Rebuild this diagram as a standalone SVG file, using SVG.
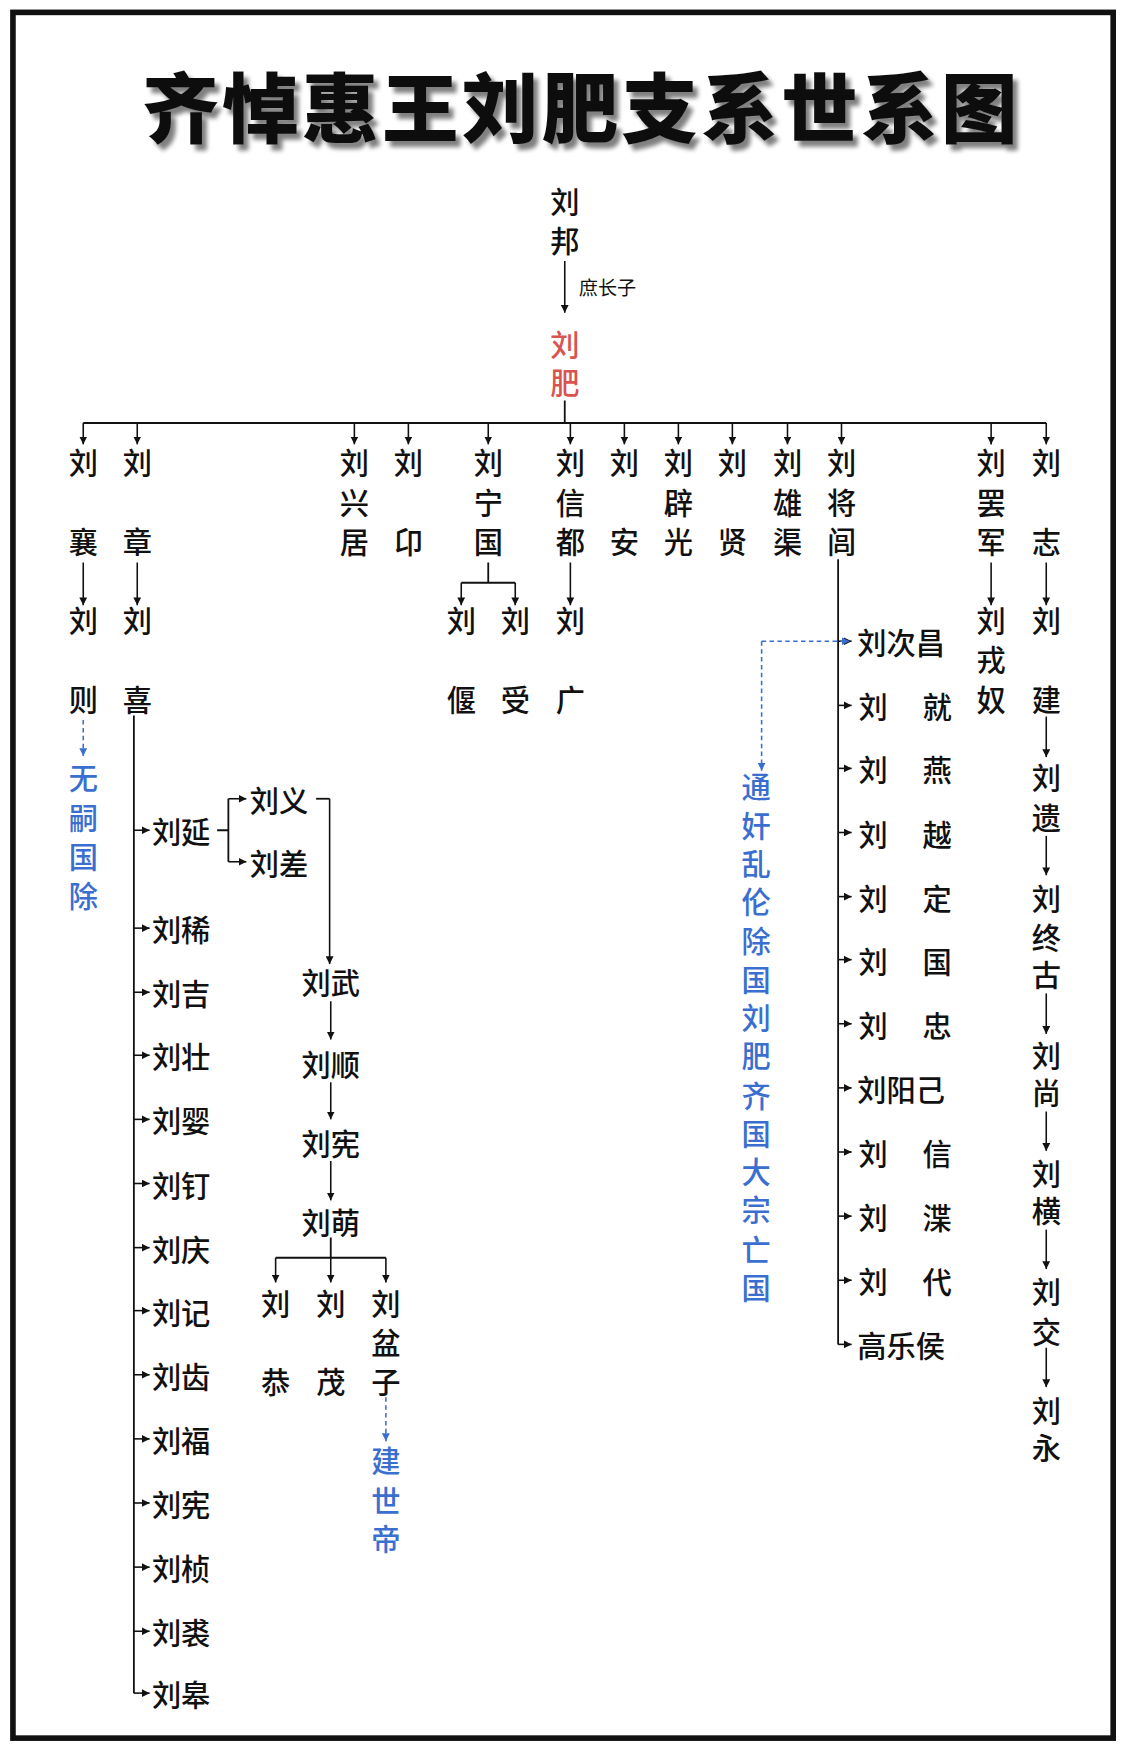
<svg xmlns="http://www.w3.org/2000/svg" width="1125" height="1750" viewBox="0 0 1125 1750">
<defs>
<marker id="ah" viewBox="0 0 10 10" refX="10" refY="5" markerWidth="7" markerHeight="7" markerUnits="userSpaceOnUse" orient="auto"><path d="M0,0L10,5L0,10z" fill="#111"/></marker>
<marker id="ahb" viewBox="0 0 10 10" refX="10" refY="5" markerWidth="7" markerHeight="7" markerUnits="userSpaceOnUse" orient="auto"><path d="M0,0L10,5L0,10z" fill="#3a6fd0"/></marker>
<filter id="sh" x="-5%" y="-20%" width="110%" height="140%"><feGaussianBlur in="SourceAlpha" stdDeviation="2"/><feOffset dx="4" dy="5"/><feComponentTransfer><feFuncA type="linear" slope="0.5"/></feComponentTransfer><feMerge><feMergeNode/><feMergeNode in="SourceGraphic"/></feMerge></filter>
</defs>
<style>
text{font-family:"Noto Sans CJK SC","Noto Sans CJK TC",sans-serif;fill:#111;dominant-baseline:central;text-anchor:middle}
.n{font-size:26px;font-weight:500}
.s{font-size:26px;font-weight:500;text-anchor:start}
.b{fill:#3a6fd0}
.r{fill:#d9534f}
.l{stroke:#111;stroke-width:1.6;fill:none}
.a{stroke:#111;stroke-width:1.4;fill:none;marker-end:url(#ah)}
.d{stroke:#3a6fd0;stroke-width:1.4;fill:none;stroke-dasharray:4 3;marker-end:url(#ahb)}
.dl{stroke:#3a6fd0;stroke-width:1.4;fill:none;stroke-dasharray:4 3}
</style>
<rect x="0" y="0" width="1125" height="1750" fill="#fff"/>
<g transform="scale(1.125)">
<rect x="11.5" y="11" width="978" height="1534" fill="none" stroke="#111" stroke-width="5"/>
<text x="517" y="92" style="font-size:68px;font-weight:900;letter-spacing:3px" filter="url(#sh)">齐悼惠王刘肥支系世系图</text>

<g id="connectors">
<path class="a" d="M502 232V278"/>
<path class="l" d="M502 356V376M74 376H930"/>
<path class="a" d="M74 376V395"/><path class="a" d="M122 376V395"/><path class="a" d="M315 376V395"/><path class="a" d="M363 376V395"/><path class="a" d="M434 376V395"/><path class="a" d="M507 376V395"/><path class="a" d="M555 376V395"/><path class="a" d="M603 376V395"/><path class="a" d="M651 376V395"/><path class="a" d="M700 376V395"/><path class="a" d="M748 376V395"/><path class="a" d="M881 376V395"/><path class="a" d="M930 376V395"/>
<path class="a" d="M74 500V538"/><path class="a" d="M122 500V538"/><path class="a" d="M507 500V538"/><path class="a" d="M881 500V538"/><path class="a" d="M930 500V538"/>
<path class="l" d="M434 500V518M410 518H458"/>
<path class="a" d="M410 518V538"/><path class="a" d="M458 518V538"/>
<path class="d" d="M74 640V672"/>
<path class="l" d="M119 636V1505"/>
<path class="a" d="M119 738H133"/><path class="a" d="M119 825H133"/><path class="a" d="M119 882H133"/><path class="a" d="M119 938H133"/><path class="a" d="M119 995H133"/><path class="a" d="M119 1052H133"/><path class="a" d="M119 1109H133"/><path class="a" d="M119 1165H133"/><path class="a" d="M119 1222H133"/><path class="a" d="M119 1279H133"/><path class="a" d="M119 1336H133"/><path class="a" d="M119 1393H133"/><path class="a" d="M119 1450H133"/><path class="a" d="M119 1505H133"/>
<path class="l" d="M193 738H203M203 710V766"/>
<path class="a" d="M203 710H219"/><path class="a" d="M203 766H219"/>
<path class="l" d="M281 710H293"/>
<path class="a" d="M293 710V857"/><path class="a" d="M294 890V924"/><path class="a" d="M294 962V995"/><path class="a" d="M294 1032V1067"/>
<path class="l" d="M294 1100V1118M245 1118H343"/>
<path class="a" d="M245 1118V1140"/><path class="a" d="M294 1118V1140"/><path class="a" d="M343 1118V1140"/>
<path class="d" d="M343 1242V1281"/>
<path class="l" d="M745 497V1195"/>
<path class="a" d="M745 570H757"/><path class="a" d="M745 627H757"/><path class="a" d="M745 683H757"/><path class="a" d="M745 740H757"/><path class="a" d="M745 797H757"/><path class="a" d="M745 853H757"/><path class="a" d="M745 910H757"/><path class="a" d="M745 967H757"/><path class="a" d="M745 1024H757"/><path class="a" d="M745 1081H757"/><path class="a" d="M745 1138H757"/><path class="a" d="M745 1195H757"/>
<path class="d" d="M677 570H755"/>
<path class="d" d="M677 570V685"/>
<path class="a" d="M930 637V673"/><path class="a" d="M930 743V778"/><path class="a" d="M930 883V919"/><path class="a" d="M930 988V1023"/><path class="a" d="M930 1093V1128"/><path class="a" d="M930 1198V1233"/>
</g>

<g id="n-liubang"><text class="n" x="502" y="178">刘</text><text class="n" x="502" y="212">邦</text><text x="540" y="255" style="font-size:17px">庶长子</text></g>
<g id="n-liufei"><text class="n r" x="502" y="305">刘</text><text class="n r" x="502" y="339">肥</text></g>

<g id="n-xiang"><text class="n" x="74" y="410">刘</text><text class="n" x="74" y="480">襄</text></g>
<g id="n-zhang"><text class="n" x="122" y="410">刘</text><text class="n" x="122" y="480">章</text></g>
<g id="n-xingju"><text class="n" x="315" y="410">刘</text><text class="n" x="315" y="445">兴</text><text class="n" x="315" y="480">居</text></g>
<g id="n-yin"><text class="n" x="363" y="410">刘</text><text class="n" x="363" y="480">卬</text></g>
<g id="n-ningguo"><text class="n" x="434" y="410">刘</text><text class="n" x="434" y="445">宁</text><text class="n" x="434" y="480">国</text></g>
<g id="n-xindu"><text class="n" x="507" y="410">刘</text><text class="n" x="507" y="445">信</text><text class="n" x="507" y="480">都</text></g>
<g id="n-an"><text class="n" x="555" y="410">刘</text><text class="n" x="555" y="480">安</text></g>
<g id="n-piguang"><text class="n" x="603" y="410">刘</text><text class="n" x="603" y="445">辟</text><text class="n" x="603" y="480">光</text></g>
<g id="n-xian"><text class="n" x="651" y="410">刘</text><text class="n" x="651" y="480">贤</text></g>
<g id="n-xiongqu"><text class="n" x="700" y="410">刘</text><text class="n" x="700" y="445">雄</text><text class="n" x="700" y="480">渠</text></g>
<g id="n-jianglv"><text class="n" x="748" y="410">刘</text><text class="n" x="748" y="445">将</text><text class="n" x="748" y="480">闾</text></g>
<g id="n-bajun"><text class="n" x="881" y="410">刘</text><text class="n" x="881" y="445">罢</text><text class="n" x="881" y="480">军</text></g>
<g id="n-zhi"><text class="n" x="930" y="410">刘</text><text class="n" x="930" y="480">志</text></g>

<g id="n-ze"><text class="n" x="74" y="550">刘</text><text class="n" x="74" y="620">则</text></g>
<g id="n-wusi"><text class="n b" x="74" y="690">无</text><text class="n b" x="74" y="725">嗣</text><text class="n b" x="74" y="760">国</text><text class="n b" x="74" y="795">除</text></g>
<g id="n-xi"><text class="n" x="122" y="550">刘</text><text class="n" x="122" y="620">喜</text></g>
<g id="n-yan"><text class="n" x="410" y="550">刘</text><text class="n" x="410" y="620">偃</text></g>
<g id="n-shou"><text class="n" x="458" y="550">刘</text><text class="n" x="458" y="620">受</text></g>
<g id="n-guang"><text class="n" x="507" y="550">刘</text><text class="n" x="507" y="620">广</text></g>
<g id="n-rongnu"><text class="n" x="881" y="550">刘</text><text class="n" x="881" y="585">戎</text><text class="n" x="881" y="620">奴</text></g>

<g id="xi-sons">
<text class="s" x="135" y="738">刘延</text><text class="s" x="135" y="825">刘稀</text><text class="s" x="135" y="882">刘吉</text><text class="s" x="135" y="938">刘壮</text><text class="s" x="135" y="995">刘婴</text><text class="s" x="135" y="1052">刘钉</text><text class="s" x="135" y="1109">刘庆</text><text class="s" x="135" y="1165">刘记</text><text class="s" x="135" y="1222">刘齿</text><text class="s" x="135" y="1279">刘福</text><text class="s" x="135" y="1336">刘宪</text><text class="s" x="135" y="1393">刘桢</text><text class="s" x="135" y="1450">刘裘</text><text class="s" x="135" y="1505">刘皋</text>
</g>
<g id="n-yi"><text class="s" x="222" y="710">刘义</text></g>
<g id="n-cha"><text class="s" x="222" y="766">刘差</text></g>
<g id="n-wu"><text class="n" x="294" y="872">刘武</text></g>
<g id="n-shun"><text class="n" x="294" y="945">刘顺</text></g>
<g id="n-xian2"><text class="n" x="294" y="1015">刘宪</text></g>
<g id="n-meng"><text class="n" x="294" y="1085">刘萌</text></g>
<g id="n-gong"><text class="n" x="245" y="1157">刘</text><text class="n" x="245" y="1227">恭</text></g>
<g id="n-mao"><text class="n" x="294" y="1157">刘</text><text class="n" x="294" y="1227">茂</text></g>
<g id="n-penzi"><text class="n" x="343" y="1157">刘</text><text class="n" x="343" y="1192">盆</text><text class="n" x="343" y="1227">子</text></g>
<g id="n-jianshi"><text class="n b" x="343" y="1297">建</text><text class="n b" x="343" y="1332">世</text><text class="n b" x="343" y="1366">帝</text></g>

<g id="jianglv-sons">
<text class="s" x="762" y="570">刘次昌</text>
<text class="n" x="776" y="627">刘</text><text class="n" x="833" y="627">就</text>
<text class="n" x="776" y="683">刘</text><text class="n" x="833" y="683">燕</text>
<text class="n" x="776" y="740">刘</text><text class="n" x="833" y="740">越</text>
<text class="n" x="776" y="797">刘</text><text class="n" x="833" y="797">定</text>
<text class="n" x="776" y="853">刘</text><text class="n" x="833" y="853">国</text>
<text class="n" x="776" y="910">刘</text><text class="n" x="833" y="910">忠</text>
<text class="s" x="762" y="967">刘阳己</text>
<text class="n" x="776" y="1024">刘</text><text class="n" x="833" y="1024">信</text>
<text class="n" x="776" y="1081">刘</text><text class="n" x="833" y="1081">渫</text>
<text class="n" x="776" y="1138">刘</text><text class="n" x="833" y="1138">代</text>
<text class="s" x="762" y="1195">高乐侯</text>
</g>
<g id="n-note">
<text class="n b" x="672" y="698">通</text><text class="n b" x="672" y="732">奸</text><text class="n b" x="672" y="766">乱</text><text class="n b" x="672" y="800">伦</text><text class="n b" x="672" y="835">除</text><text class="n b" x="672" y="869">国</text><text class="n b" x="672" y="903">刘</text><text class="n b" x="672" y="937">肥</text><text class="n b" x="672" y="972">齐</text><text class="n b" x="672" y="1006">国</text><text class="n b" x="672" y="1040">大</text><text class="n b" x="672" y="1074">宗</text><text class="n b" x="672" y="1109">亡</text><text class="n b" x="672" y="1143">国</text>
</g>

<g id="n-jian"><text class="n" x="930" y="550">刘</text><text class="n" x="930" y="620">建</text></g>
<g id="n-yi2"><text class="n" x="930" y="690">刘</text><text class="n" x="930" y="725">遗</text></g>
<g id="n-zhonggu"><text class="n" x="930" y="797">刘</text><text class="n" x="930" y="832">终</text><text class="n" x="930" y="865">古</text></g>
<g id="n-shang"><text class="n" x="930" y="937">刘</text><text class="n" x="930" y="970">尚</text></g>
<g id="n-heng"><text class="n" x="930" y="1042">刘</text><text class="n" x="930" y="1075">横</text></g>
<g id="n-jiao"><text class="n" x="930" y="1147">刘</text><text class="n" x="930" y="1182">交</text></g>
<g id="n-yong"><text class="n" x="930" y="1252">刘</text><text class="n" x="930" y="1285">永</text></g>
</g>
</svg>
